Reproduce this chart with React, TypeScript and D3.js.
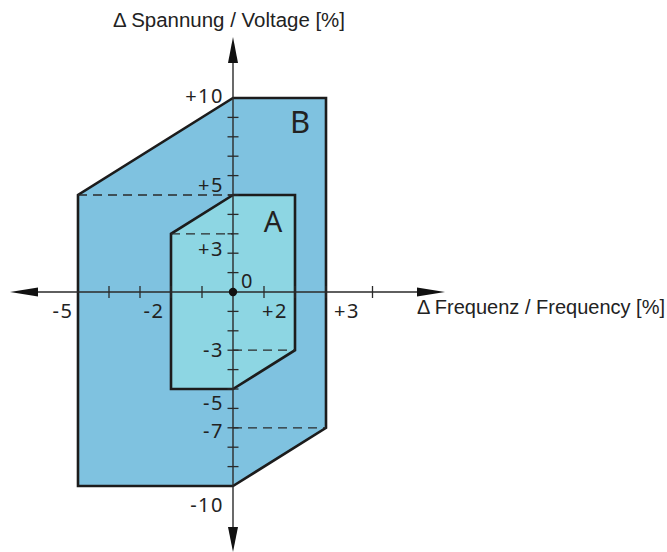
import React from "react";
import * as d3 from "d3";

// tolerance zones, corners as [frequency %, voltage %]
const zoneB: [number, number][] = [[-5, -10], [-5, 5], [0, 10], [3, 10], [3, -7], [0, -10]];
const zoneA: [number, number][] = [[-2, -5], [-2, 3], [0, 5], [2, 5], [2, -3], [0, -5]];

// dashed guide lines from the voltage axis out to a corner
const guides: [number, number][][] = [
  [[-5, 5], [0, 5]],
  [[-2, 3], [0, 3]],
  [[0, -3], [2, -3]],
  [[0, -7], [3, -7]],
];

const xTicks = [-4, -3, -2, -1, 1, 2, 3, 4.5];
const yTicks = [-9, -8, -7, -6, -5, -4, -3, -2, -1, 1, 2, 3, 4, 5, 6, 7, 8, 9];

const xLabels = [
  { v: -5, text: "-5" },
  { v: -2, text: "-2" },
  { v: 2, text: "+2" },
  { v: 3, text: "+3" },
];
const yLabels = [
  { v: 10, text: "+10" },
  { v: 5, text: "+5" },
  { v: 3, text: "+3" },
  { v: -3, text: "-3" },
  { v: -5, text: "-5" },
  { v: -7, text: "-7" },
  { v: -10, text: "-10" },
];

const xTitle = "Δ Frequenz / Frequency [%]";
const yTitle = "Δ Spannung / Voltage [%]";

const W = 667;
const H = 552;

// label nudges so they sit clear of the lines (px)
const xLabelDx: Record<string, number> = { "-5": -15, "-2": -17, "+2": -20, "+3": 21 };
const yLabelDy: Record<string, number> = { "+10": 5, "+5": -3, "+3": 22, "-3": 7, "-5": 21, "-7": 10, "-10": 26 };

const numFont = "'Noto Sans', Lato, sans-serif";
const titleFont = "'Liberation Sans', Arial, sans-serif";

export default function App() {
  const x = d3.scaleLinear().domain([-5, 3]).range([78, 326]);
  const y = d3.scaleLinear().domain([-10, 10]).range([486, 98]);
  const x0 = x(0);
  const y0 = y(0);

  const poly = d3.line<[number, number]>().x((d) => x(d[0])).y((d) => y(d[1]));
  const closed = (pts: [number, number][]) => poly(pts) + "Z";

  const stroke = "#1c1c1c";
  const axisCol = "#2a2a2a";

  return (
    <svg
      width={W}
      height={H}
      style={{ position: "absolute", left: 0, top: 0, background: "#fff" }}
    >
      <path d={closed(zoneB)} fill="#7fc2e0" stroke={stroke} strokeWidth={2.6} strokeLinejoin="miter" />
      <path d={closed(zoneA)} fill="#8dd6e3" stroke={stroke} strokeWidth={2.6} strokeLinejoin="miter" />

      {guides.map((g, i) => (
        <path key={i} d={poly(g) || ""} stroke={axisCol} strokeWidth={1.3} strokeDasharray="9,6" fill="none" />
      ))}

      {/* axes */}
      <line x1={38} x2={418} y1={y0} y2={y0} stroke={axisCol} strokeWidth={1.4} />
      <line x1={x0} x2={x0} y1={62} y2={528} stroke={axisCol} strokeWidth={1.4} />
      <path d={`M10,${y0} L38,${y0 - 4.5} L38,${y0 + 4.5} Z`} fill="#111" />
      <path d={`M445,${y0} L417,${y0 - 4.5} L417,${y0 + 4.5} Z`} fill="#111" />
      <path d={`M${x0},37 L${x0 - 5},63 L${x0 + 5},63 Z`} fill="#111" />
      <path d={`M${x0},552 L${x0 - 5},527 L${x0 + 5},527 Z`} fill="#111" />

      {xTicks.map((t) => (
        <line key={t} x1={x(t)} x2={x(t)} y1={y0 - 6} y2={y0 + 6} stroke={axisCol} strokeWidth={1.3} />
      ))}
      {yTicks.map((t) => (
        <line key={t} x1={x0 - 5.5} x2={x0 + 5.5} y1={y(t)} y2={y(t)} stroke={axisCol} strokeWidth={1.3} />
      ))}
      <circle cx={x0} cy={y0} r={4.2} fill="#111" />

      {xLabels.map((l) => (
        <text
          key={l.text}
          x={x(l.v) + xLabelDx[l.text]}
          y={318}
          textAnchor="middle"
          fontFamily={numFont}
          fontSize={20}
          letterSpacing={1.5}
          fill="#222"
        >
          {l.text}
        </text>
      ))}
      {yLabels.map((l) => (
        <text
          key={l.text}
          x={224}
          y={y(l.v) + yLabelDy[l.text]}
          textAnchor="end"
          fontFamily={numFont}
          fontSize={20}
          letterSpacing={1.5}
          fill="#222"
        >
          {l.text}
        </text>
      ))}
      <text x={241} y={288} fontFamily={numFont} fontSize={20} fill="#222">0</text>

      <text x={300} y={133} textAnchor="middle" fontFamily={numFont} fontSize={31} fill="#222">B</text>
      <text x={273} y={232} textAnchor="middle" fontFamily={numFont} fontSize={29} fill="#222">A</text>

      <text x={113} y={27} fontFamily={titleFont} fontSize={20} fill="#222" textLength={232} lengthAdjust="spacingAndGlyphs">
        {yTitle}
      </text>
      <text x={417} y={314} fontFamily={titleFont} fontSize={20} fill="#222" textLength={248} lengthAdjust="spacingAndGlyphs">
        {xTitle}
      </text>
    </svg>
  );
}
